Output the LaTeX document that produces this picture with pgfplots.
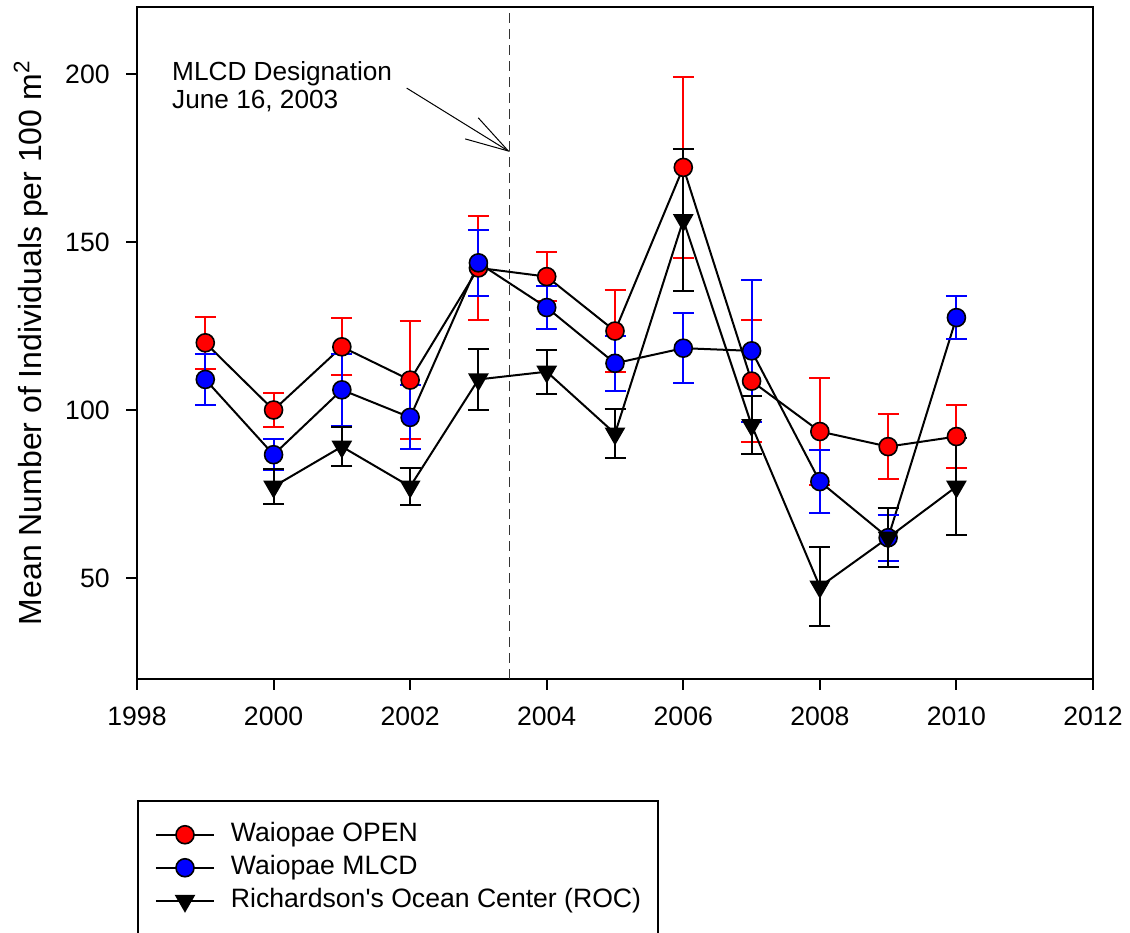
\documentclass[border=0pt]{standalone}
\usepackage{fontspec}
\setmainfont{Liberation Sans}
\usepackage{pgfplots}
\pgfplotsset{compat=1.18}
\usetikzlibrary{arrows.meta}

\begin{document}
\begin{tikzpicture}
\begin{axis}[
  name=ax,
  scale only axis,
  width=478pt, height=336pt,
  xmin=1998, xmax=2012, ymin=20, ymax=220,
  xtick={1998,2000,...,2012},
  ytick={50,100,150,200},
  tick pos=left,
  tick align=outside,
  major tick length=5.5pt,
  minor tick num=0,
  axis line style={line width=1pt},
  every tick/.style={black, line width=1pt},
  /pgf/number format/assume math mode=true,
  /pgf/number format/1000 sep={},
  ticklabel style={font=\fontsize{13.3}{15}\selectfont, inner sep=0pt},
  xticklabel style={yshift=-8.5pt},
  yticklabel style={xshift=-8pt},
  ylabel={Mean Number of Individuals per 100 m\textsuperscript{2}},
  ylabel style={font=\fontsize{16}{18}\selectfont, at={(axis description cs:-0.0994,0.5)}, anchor=base, inner sep=0pt},
  legend style={at={(axis description cs:0,-0.18)}, anchor=north west, draw=black, line width=1pt,
    font=\fontsize{13.3}{15}\selectfont, inner xsep=8.5pt, inner ysep=10.75pt, row sep=4pt, column sep=8pt,
    nodes={inner sep=0pt, text height=9.5pt, text depth=3pt}, cells={anchor=west}},
  legend image code/.code={\draw[mark repeat=2, mark phase=2] plot coordinates {(0pt,0pt) (14.5pt,0pt) (29pt,0pt)};},
  clip=false,
]
% dashed designation line
\addplot[forget plot, dash pattern=on 5pt off 3pt, line width=0.6pt, color=black!80] coordinates {(2003.46,20) (2003.46,220)};

% Waiopae OPEN
\addplot[black, line width=1pt, mark=*, mark size=4.5pt,
  mark options={fill=red, draw=black, line width=0.8pt, solid},
  error bars/.cd, y dir=both, y explicit,
  error bar style={red, line width=1pt},
  error mark options={red, rotate=90, mark size=5.25pt, line width=1pt}]
coordinates {
(1999,120.0) +- (0,7.7)
(2000,100.0) +- (0,5.0)
(2001,118.8) +- (0,8.5)
(2002,108.9) +- (0,17.5)
(2003,142.3) +- (0,15.5)
(2004,139.7) +- (0,7.2)
(2005,123.5) +- (0,12.3)
(2006,172.2) +- (0,27.0)
(2007,108.6) +- (0,18.2)
(2008,93.6) +- (0,15.8)
(2009,89.1) +- (0,9.6)
(2010,92.1) +- (0,9.4)
};

% Waiopae MLCD
\addplot[black, line width=1pt, mark=*, mark size=4.5pt,
  mark options={fill=blue, draw=black, line width=0.8pt, solid},
  error bars/.cd, y dir=both, y explicit,
  error bar style={blue, line width=1pt},
  error mark options={blue, rotate=90, mark size=5.25pt, line width=1pt}]
coordinates {
(1999,109.1) +- (0,7.5)
(2000,86.7) +- (0,4.6)
(2001,106.0) +- (0,10.8)
(2002,97.8) +- (0,9.5)
(2003,143.8) +- (0,9.8)
(2004,130.5) +- (0,6.4)
(2005,113.9) +- (0,8.2)
(2006,118.4) +- (0,10.4)
(2007,117.6) +- (0,21.2)
(2008,78.7) +- (0,9.5)
(2009,62.0) +- (0,6.8)
(2010,127.5) +- (0,6.3)
};

% Richardson's Ocean Center
\addplot[black, line width=1pt, mark=triangle*, mark size=5pt,
  mark options={fill=black, draw=black, rotate=180, solid},
  error bars/.cd, y dir=both, y explicit,
  error bar style={black, line width=1pt},
  error mark options={black, rotate=90, mark size=5.25pt, line width=1pt}]
coordinates {
(2000,77.2) +- (0,5.2)
(2001,89.1) +- (0,5.9)
(2002,77.2) +- (0,5.5)
(2003,109.1) +- (0,9.1)
(2004,111.4) +- (0,6.6)
(2005,93.0) +- (0,7.2)
(2006,156.5) +- (0,21.2)
(2007,95.5) +- (0,8.7)
(2008,47.4) +- (0,11.8)
(2009,62.0) +- (0,8.8)
(2010,77.2) +- (0,14.5)
};

\legend{Waiopae OPEN, Waiopae MLCD, Richardson\textquotesingle s Ocean Center (ROC)}

\draw[line width=0.5pt, -{Straight Barb[length=21.5pt,width=12.4pt]}] (axis cs:2001.95,195.8) -- (axis cs:2003.46,176.8);
\node[anchor=base west, inner sep=0pt, font=\fontsize{13.1}{15}\selectfont] at (axis cs:1998.51,198.2) {MLCD Designation};
\node[anchor=base west, inner sep=0pt, font=\fontsize{13.1}{15}\selectfont] at (axis cs:1998.51,189.6) {June 16, 2003};
\end{axis}
\pgfresetboundingbox
\path (ax.south west) ++(-68.5pt,-126.6pt) rectangle ++(565pt,466pt);
\end{tikzpicture}
\end{document}
